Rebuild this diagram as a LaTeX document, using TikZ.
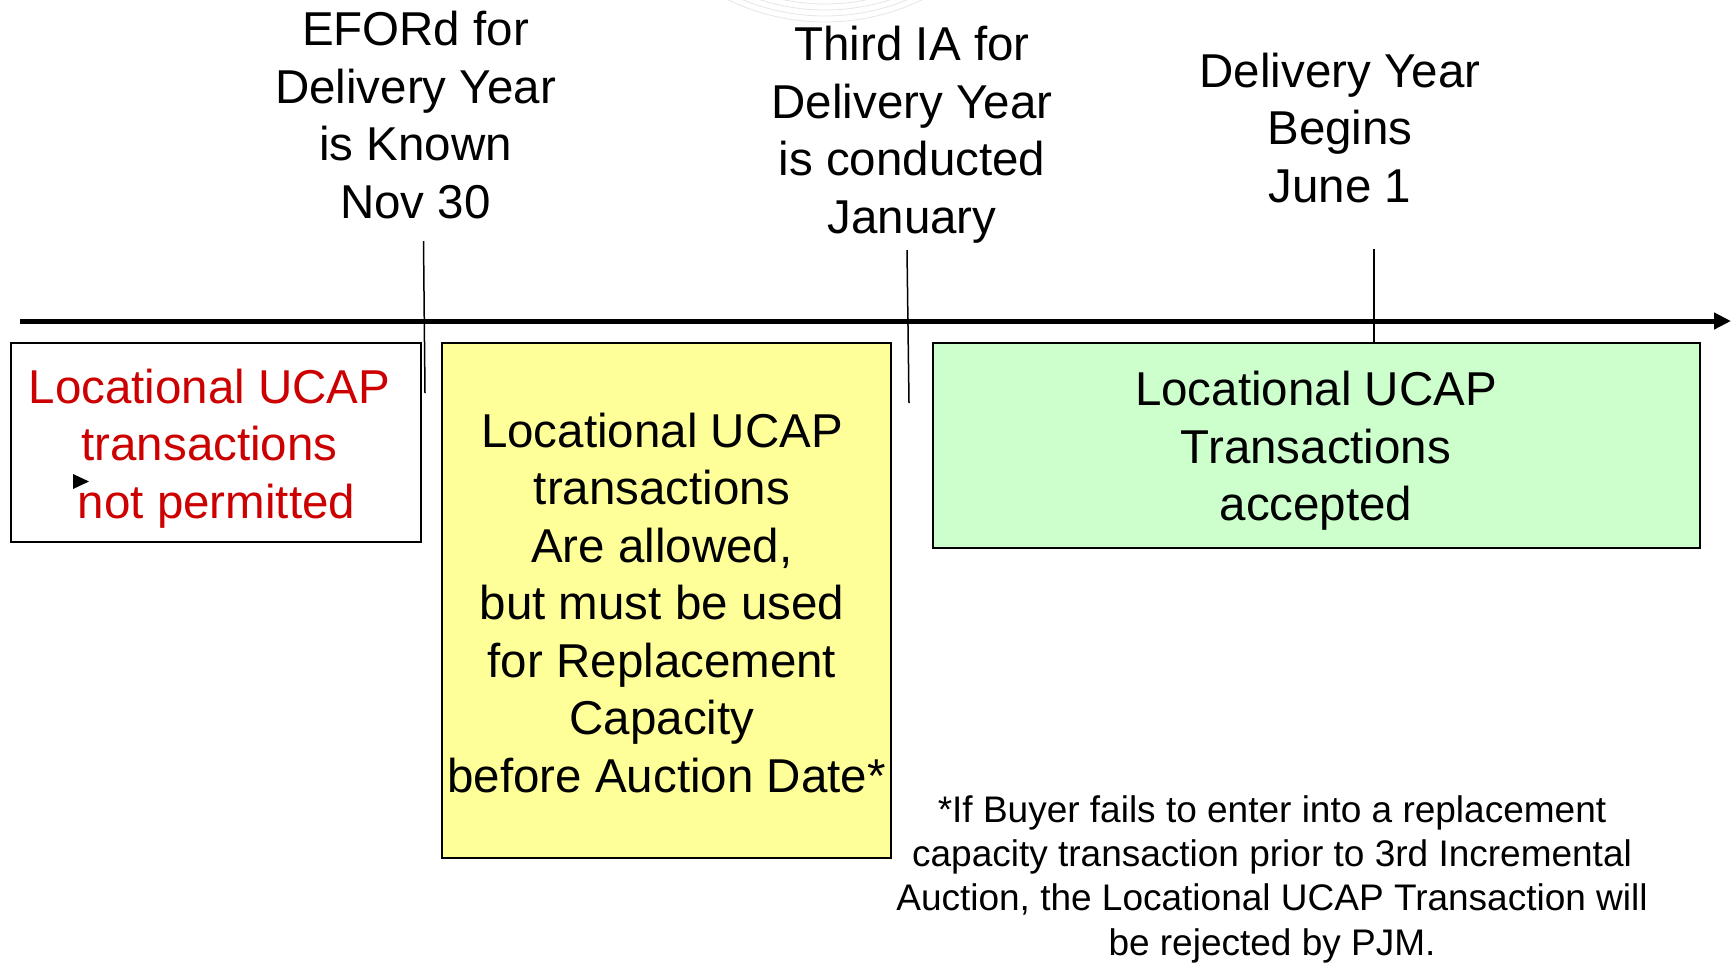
\documentclass[tikz,border=0pt]{standalone}
\usepackage{fontspec}
\setmainfont{Liberation Sans}
\usetikzlibrary{arrows.meta}
\definecolor{redtxt}{RGB}{204,0,0}
\definecolor{yelfill}{RGB}{255,255,153}
\definecolor{grnfill}{RGB}{204,255,204}
\begin{document}
\begin{tikzpicture}[x=1pt,y=-1pt,
  box/.style={draw=black,line width=2pt,inner sep=0pt},
  lbl/.style={align=center,inner sep=0pt,font=\fontsize{47.5}{57.5}\selectfont},
  foot/.style={align=center,inner sep=0pt,font=\fontsize{37}{44.3}\selectfont},
  tickline/.style={line width=1.5pt},
  axis/.style={line width=5pt,-{Triangle[length=17pt,width=16pt]}}]
\useasboundingbox (0,0) rectangle (1736,962);
% faint background watermark
\begin{scope}
\clip (0,0) rectangle (1736,962);
\foreach \r in {204,210,216,222}
  \draw[black!10,line width=0.8pt] (825,-200) circle[radius=\r pt];
\end{scope}
% boxes
\node[box,minimum width=410pt,minimum height=199pt] (b1) at (216,442.5) {};
\node[box,fill=yelfill,minimum width=449pt,minimum height=515pt] (b2) at (666.5,600.5) {};
\node[box,fill=grnfill,minimum width=767pt,minimum height=205pt] (b3) at (1316,445.5) {};
% box texts
\node[lbl,text=redtxt] (x1) at (209.5,448.5) {Locational UCAP\\transactions\\\hspace*{14pt}not permitted};
\node[lbl] (x2) at (662,602.7) {Locational UCAP\\transactions\\Are allowed,\\but must be used\\for Replacement\\Capacity\\\hspace*{9pt}before Auction Date*};
\node[lbl] (x3) at (1316,451) {Locational UCAP\\Transactions\\accepted};
% axis
\coordinate (axL) at (20,321);
\coordinate (axR) at (1731,321);
\draw[axis] (axL) -- (axR);
% ticks
\coordinate (t1a) at (423.5,241);
\coordinate (t1b) at (425,393);
\coordinate (t2a) at (907,250);
\coordinate (t2b) at (909,403);
\coordinate (t3a) at (1374,249);
\coordinate (t3b) at (1374,343);
\draw[tickline] (t1a) -- (t1b);
\draw[tickline] (t2a) -- (t2b);
\draw[tickline] (t3a) -- (t3b);
% labels
\node[lbl] (l1) at (415.5,115) {EFORd for\\Delivery Year\\is Known\\Nov 30};
\node[lbl] (l2) at (912,134.9) {Third IA for\\Delivery Year\\is conducted\\January};
\node[lbl] (l3) at (1340,128) {Delivery Year\\Begins\\June 1};
% small marker
\fill[black] (73,474) -- (89,481.5) -- (73,489) -- cycle;
% footnote
\node[foot] (fn) at (1272,879) {*If Buyer fails to enter into a replacement\\capacity transaction prior to 3rd Incremental\\Auction, the Locational UCAP Transaction will\\be rejected by PJM.};
\end{tikzpicture}
\end{document}
